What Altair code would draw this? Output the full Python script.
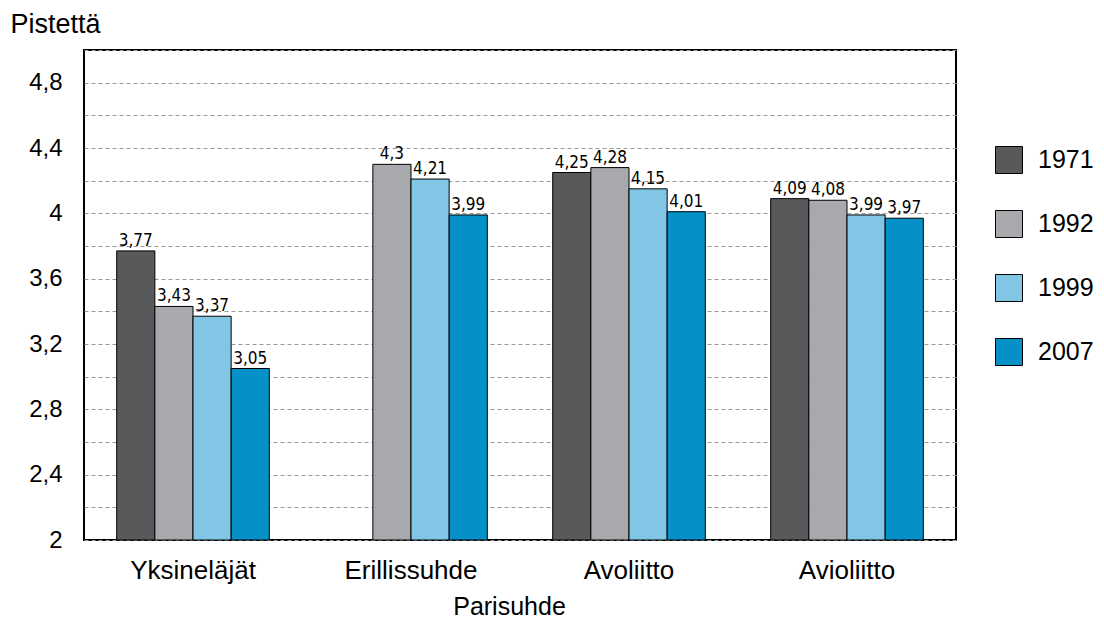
import altair as alt
import pandas as pd

categories = ["Yksineläjät", "Erillissuhde", "Avoliitto", "Avioliitto"]
years = ["1971", "1992", "1999", "2007"]
v1971 = [3.77, None, 4.25, 4.09]
v1992 = [3.43, 4.30, 4.28, 4.08]
v1999 = [3.37, 4.21, 4.15, 3.99]
v2007 = [3.05, 3.99, 4.01, 3.97]
colors = ["#58595b", "#a7a9ac", "#81c6e4", "#0590c8"]
y_ticks = [2.0, 2.2, 2.4, 2.6, 2.8, 3.0, 3.2, 3.4, 3.6, 3.8, 4.0, 4.2, 4.4, 4.6, 4.8, 5.0]

rows = []
for yr, vals in zip(years, [v1971, v1992, v1999, v2007]):
    for cat, v in zip(categories, vals):
        if v is None:
            continue
        rows.append({"cat": cat, "year": yr, "value": v,
                     "label": f"{v:g}".replace(".", ",")})
df = pd.DataFrame(rows)

FONT = "Liberation Sans"
NARROW = "Liberation Sans Narrow, DejaVu Sans Condensed, Liberation Sans"

x = alt.X("cat:N", sort=categories,
          scale=alt.Scale(paddingInner=0.3, paddingOuter=0.15),
          axis=alt.Axis(title="Parisuhde", labelAngle=0, ticks=False, tickSize=0,
                        domain=False, labelFontSize=26, labelPadding=17,
                        labelColor="#000", titleFontSize=25, titleColor="#000",
                        titleFontWeight="normal", titleX=425, titleY=74,
                        titleBaseline="alphabetic", titleAlign="center"))
xo = alt.XOffset("year:N", sort=years, scale=alt.Scale(domain=years, paddingInner=0, paddingOuter=0))
y = alt.Y("value:Q", scale=alt.Scale(domain=[2, 5], nice=False, zero=False),
          axis=alt.Axis(values=y_ticks, ticks=False, tickSize=0, domain=False,
                        grid=True, gridColor="#999999", gridDash=[4, 3], gridWidth=1,
                        labelExpr="round(datum.value*10) % 4 == 0 ? replace(format(datum.value, '.1~f'), '.', ',') : ''",
                        labelFontSize=24, labelPadding=22, labelColor="#000",
                        title="Pistettä", titleAngle=0, titleAlign="left",
                        titleBaseline="alphabetic", titleX=-74, titleY=-18,
                        titleFontSize=27, titleFontWeight="normal", titleColor="#000"))

bars = alt.Chart(df).mark_bar(stroke="#000", strokeWidth=1).encode(
    x=x, xOffset=xo, y=y, y2=alt.datum(2),
    color=alt.Color("year:N", sort=years,
                    scale=alt.Scale(domain=years, range=colors),
                    legend=alt.Legend(title=None, orient="none", legendX=911, legendY=96,
                                      symbolType="square", symbolSize=729,
                                      symbolStrokeColor="#000", symbolStrokeWidth=1,
                                      symbolOpacity=1, labelFontSize=25, labelOffset=15,
                                      rowPadding=32, padding=0, labelColor="#000",
                                      labelFont=FONT)),
)

texts = alt.Chart(df).mark_text(baseline="alphabetic", dy=-5, fontSize=17,
                                font=NARROW, color="#000").encode(
    x=x, xOffset=xo, y=y, text="label:N")

chart = alt.layer(bars, texts).properties(
    width=872, height=490,
    autosize=alt.AutoSizeParams(type="none"),
    padding={"left": 76, "top": 42, "right": 140, "bottom": 79},
).configure(font=FONT).configure_view(stroke="#000", strokeWidth=2)

chart.save("out.html", embed_options={"renderer": "svg", "actions": False})
